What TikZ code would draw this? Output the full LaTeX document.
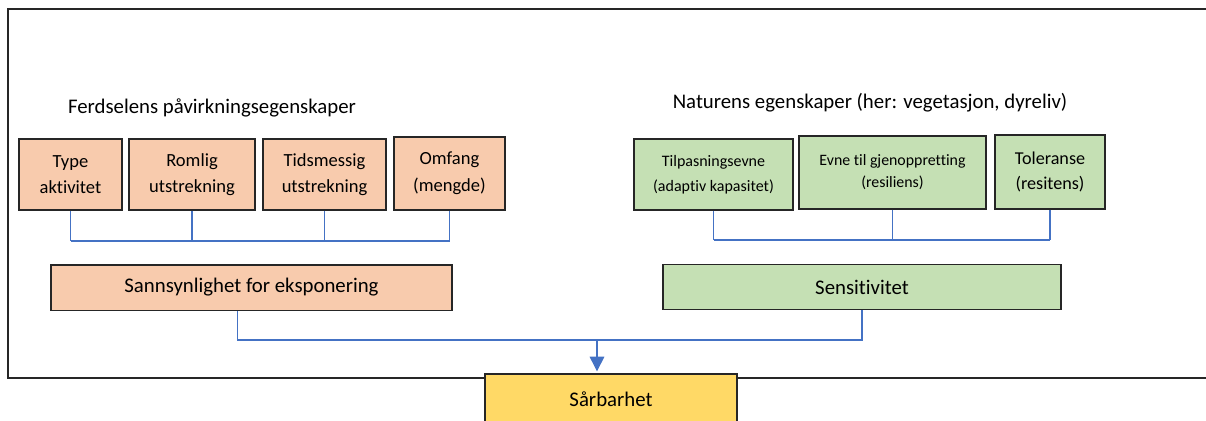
\documentclass[tikz,border=0pt]{standalone}
\usepackage{fontspec}
\setmainfont{Carlito}[Ligatures={NoCommon}, RawFeature={-liga,-clig,-calt,-dlig}]
\usepackage{tikz}
\usetikzlibrary{positioning, arrows.meta}
\definecolor{fdorange}{HTML}{F8CBAD}
\definecolor{nagreen}{HTML}{C5E0B4}
\definecolor{sbyellow}{HTML}{FFD966}
\definecolor{lnblue}{HTML}{4472C4}
\definecolor{frgray}{HTML}{262626}

\begin{document}
\begin{tikzpicture}[
  x=0.75pt, y=-0.75pt,
  factor/.style={
    rectangle, draw=frgray, line width=1pt, fill=fdorange,
    minimum height=53.25pt, inner sep=2pt, align=center,
    font=\fontsize{13.9}{20}\selectfont
  },
  trait/.style={factor, fill=nagreen},
  sumbox/.style={
    rectangle, draw=frgray, line width=1pt, fill=fdorange,
    minimum height=34pt, inner sep=2pt,
    font=\fontsize{15.6}{18}\selectfont
  },
  heading/.style={inner sep=0pt, font=\fontsize{15.6}{18}\selectfont},
  link/.style={draw=lnblue, line width=0.8pt},
  arr/.style={link, -{Triangle[length=11pt, width=11pt]}, shorten >=1.5pt},
]
\useasboundingbox (0,0) rectangle (1206,421);
\draw[frgray, line width=1.5pt] (8,9) rectangle (1220,378);

% Ferdsel
\node[heading] (fhead) at (212,108) {Ferdselens påvirkningsegenskaper};
\node[factor, minimum width=77.25pt] (type) at (70.5,174.5) {Type\\aktivitet};
\node[factor, minimum width=94.5pt] (romlig) at (192,174.5) {Romlig\\utstrekning};
\node[factor, minimum width=92.25pt] (tids) at (324.5,174.5) {Tidsmessig\\utstrekning};
\node[factor, minimum width=83.25pt, minimum height=54.75pt] (omfang) at (449.5,173.5) {Omfang\\(mengde)};
\node[sumbox, minimum width=300.75pt] (sann) at (251.5,287.5) {Sannsynlighet for eksponering};

% Natur
\node[heading] (nhead) at (870,103) {Naturens egenskaper (her: vegetasjon, dyreliv)};
\node[trait, minimum width=119.25pt, font=\fontsize{12}{19}\selectfont] (tilp) at (713.5,174.5) {Tilpasningsevne\\(adaptiv kapasitet)};
\node[trait, minimum width=140.25pt, minimum height=54.75pt, font=\fontsize{11.9}{16.5}\selectfont] (evne) at (892.5,172.5) {Evne til gjenoppretting\\(resiliens)};
\node[trait, minimum width=82.5pt, minimum height=55.5pt, font=\fontsize{13.6}{19}\selectfont] (toler) at (1050,172) {Toleranse\\(resitens)};
\node[sumbox, fill=nagreen, minimum width=298.5pt] (sens) at (862,287) {Sensitivitet};

\node[sumbox, fill=sbyellow, minimum width=189pt, minimum height=37.5pt] (sarb) at (611,399) {Sårbarhet};

% Samlelinjer
\coordinate (lbus) at (0,241);
\coordinate (rbus) at (0,240);
\coordinate (join) at (597,340);
\foreach \b in {type, romlig, tids, omfang} {
  \draw[link] (\b.south) -- (\b.south |- lbus);
}
\draw[link] (type.south |- lbus) -- (omfang.south |- lbus);
\foreach \b in {tilp, evne, toler} {
  \draw[link] (\b.south) -- (\b.south |- rbus);
}
\draw[link] (tilp.south |- rbus) -- (toler.south |- rbus);

\draw[link] ([xshift=-10.5pt]sann.south) |- (join) -| (sens.south);
\draw[arr] (join) -- (join |- sarb.north);
\end{tikzpicture}
\end{document}
